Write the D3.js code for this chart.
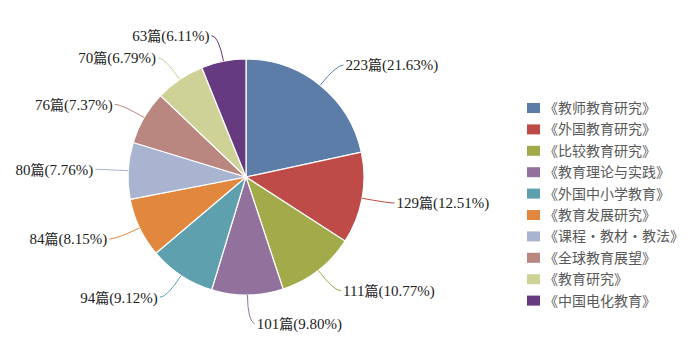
<!DOCTYPE html>
<html><head><meta charset="utf-8">
<script src="https://cdn.jsdelivr.net/npm/d3@7"></script>
<style>
html,body{margin:0;padding:0;background:#fff;}
</style></head>
<body>
<svg id="chart" width="700" height="355"></svg>
<script>
const categories = ["《教师教育研究》","《外国教育研究》","《比较教育研究》","《教育理论与实践》","《外国中小学教育》","《教育发展研究》","《课程・教材・教法》","《全球教育展望》","《教育研究》","《中国电化教育》"];
const counts = [223,129,111,101,94,84,80,76,70,63];
const percents = ["21.63%","12.51%","10.77%","9.80%","9.12%","8.15%","7.76%","7.37%","6.79%","6.11%"];
const colors = ["#5B7DA8","#BE4B48","#A2AA4A","#92729C","#5EA0AE","#E2883E","#A9B5D0","#B98780","#CFD297","#653A7E"];

const svg = d3.select("#chart");
const cx = 246, cy = 177, R = 118;
const g = svg.append("g").attr("transform", `translate(${cx},${cy})`);

const pie = d3.pie().sort(null).value(d => d);
const arcs = pie(counts);
const arc = d3.arc().innerRadius(0).outerRadius(R);
const color = d3.scaleOrdinal().domain(categories).range(colors);

g.selectAll("path.slice").data(arcs).enter().append("path")
  .attr("class","slice")
  .attr("d", arc)
  .attr("fill", (d,i) => color(categories[i]))
  .attr("stroke", "#fff").attr("stroke-width", 1.2);

const labelFont = "'Liberation Serif','Times New Roman','Noto Sans CJK SC',serif";
arcs.forEach((d,i) => {
  const a = (d.startAngle + d.endAngle)/2;
  const sx = Math.sin(a), sy = -Math.cos(a);
  const k = 1.22;
  const p0 = [sx*R, sy*R];
  const p1 = [sx*R*k, sy*R*k];
  const right = sx >= -0.05;
  const p2 = [p1[0] + (right ? 7 : -7), p1[1] + (Math.abs(sx) < 0.1 ? 3 : 0)];
  g.append("path")
    .attr("d", `M${p0[0]},${p0[1]} Q${p1[0]},${p1[1]} ${p2[0]},${p2[1]}`)
    .attr("fill","none").attr("stroke", color(categories[i])).attr("stroke-width",1);
  const t = g.append("text")
    .attr("x", p2[0] + (right ? 2 : -2))
    .attr("y", p2[1])
    .attr("dy","0.35em")
    .attr("text-anchor", right ? "start" : "end")
    .attr("font-family", labelFont)
    .attr("font-size", 15)
    .attr("fill", "#222");
  t.append("tspan").text(counts[i]);
  t.append("tspan").attr("font-family","'Noto Sans CJK SC',sans-serif").attr("font-size",14).text("篇");
  t.append("tspan").text("(" + percents[i] + ")");
});

const legend = svg.append("g").attr("transform","translate(527,108)");
const rowH = 21.4;
categories.forEach((c,i) => {
  const row = legend.append("g").attr("transform", `translate(0,${i*rowH})`);
  row.append("rect").attr("x",0).attr("y",-5).attr("width",13).attr("height",10).attr("fill", color(c));
  row.append("text").attr("x",17).attr("y",0).attr("dy","0.36em")
    .attr("font-family","'Noto Sans CJK SC',sans-serif").attr("font-size",14)
    .attr("fill","#595959").text(c);
});
</script>
</body></html>
